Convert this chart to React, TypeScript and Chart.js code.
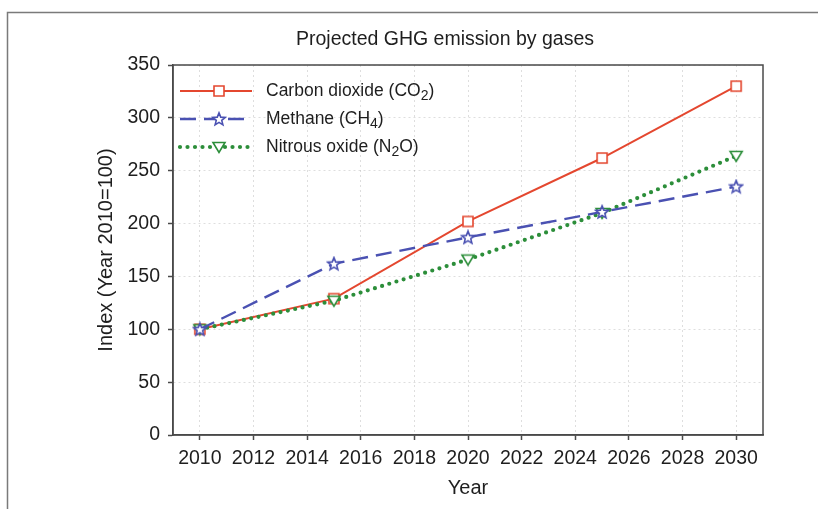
import { useEffect, useRef } from "react";
import { Chart, registerables } from "chart.js";

Chart.register(...registerables);

const FONT = "'Liberation Sans', Arial, Helvetica, sans-serif";

const chartTitle = "Projected GHG emission by gases";
const xAxisTitle = "Year";
const yAxisTitle = "Index (Year 2010=100)";

const years = [2010, 2015, 2020, 2025, 2030];
const co2 = [100, 129, 202, 262, 330];
const ch4 = [100, 162, 187, 211, 235];
const n2o = [100, 127, 166, 210, 264];

const xTicks = [2010, 2012, 2014, 2016, 2018, 2020, 2022, 2024, 2026, 2028, 2030];
const yTicks = [0, 50, 100, 150, 200, 250, 300, 350];

// legend labels: [main text, subscript, tail]
const legendCO2 = ["Carbon dioxide (CO", "2", ")"];
const legendCH4 = ["Methane (CH", "4", ")"];
const legendN2O = ["Nitrous oxide (N", "2", "O)"];

const RED = "#e4472f";
const BLUE = "#4a51b2";
const GREEN = "#2c8e3a";

function makeMarker(kind: string, color: string): HTMLCanvasElement {
  const c = document.createElement("canvas");
  const s = 16;
  c.width = s;
  c.height = s;
  const ctx = c.getContext("2d")!;
  const cx = s / 2;
  const cy = s / 2;
  ctx.lineWidth = 1.6;
  ctx.strokeStyle = color;
  ctx.fillStyle = "#ffffff";
  ctx.beginPath();
  if (kind === "square") {
    ctx.rect(cx - 5, cy - 5, 10, 10);
  } else if (kind === "star") {
    const R = 6.6;
    const r = 2.9;
    for (let i = 0; i < 10; i++) {
      const rad = i % 2 === 0 ? R : r;
      const a = -Math.PI / 2 + (i * Math.PI) / 5;
      const px = cx + rad * Math.cos(a);
      const py = cy + 0.5 + rad * Math.sin(a);
      if (i === 0) ctx.moveTo(px, py);
      else ctx.lineTo(px, py);
    }
    ctx.closePath();
  } else {
    ctx.moveTo(cx - 6, cy - 4.5);
    ctx.lineTo(cx + 6, cy - 4.5);
    ctx.lineTo(cx, cy + 5.5);
    ctx.closePath();
  }
  ctx.fill();
  ctx.stroke();
  return c;
}

export default function App() {
  const ref = useRef<HTMLCanvasElement | null>(null);

  useEffect(() => {
    const canvas = ref.current;
    if (!canvas) return;

    const mSquare = makeMarker("square", RED);
    const mStar = makeMarker("star", BLUE);
    const mTri = makeMarker("tri", GREEN);

    const toPts = (vals: number[]) => years.map((x, i) => ({ x, y: vals[i] }));

    const legendItems = [
      { parts: legendCO2, color: RED, dash: [] as number[], width: 2, cap: "butt", marker: mSquare },
      { parts: legendCH4, color: BLUE, dash: [16, 8], width: 2.4, cap: "butt", marker: mStar },
      { parts: legendN2O, color: GREEN, dash: [0, 7.5], width: 4.2, cap: "round", marker: mTri },
    ];

    const framePlugin = {
      id: "frame",
      beforeDraw(chart: any) {
        const ctx = chart.ctx;
        ctx.save();
        ctx.fillStyle = "#ffffff";
        ctx.fillRect(0, 0, chart.width, chart.height);
        ctx.strokeStyle = "#7a7a7a";
        ctx.lineWidth = 1.5;
        ctx.beginPath();
        ctx.moveTo(7.5, chart.height);
        ctx.lineTo(7.5, 12.5);
        ctx.lineTo(chart.width, 12.5);
        ctx.stroke();
        ctx.fillStyle = "#1e1e1e";
        ctx.font = `19.5px ${FONT}`;
        ctx.textAlign = "center";
        ctx.textBaseline = "middle";
        ctx.fillText(chartTitle, 445, 40);
        ctx.restore();
      },
      afterDraw(chart: any) {
        const ctx = chart.ctx;
        const a = chart.chartArea;
        ctx.save();
        ctx.strokeStyle = "#4a4a4a";
        ctx.lineWidth = 1.5;
        ctx.strokeRect(a.left, a.top, a.right - a.left, a.bottom - a.top);
        // legend
        legendItems.forEach((it, i) => {
          const y = 91 + i * 28;
          ctx.save();
          ctx.strokeStyle = it.color;
          ctx.lineWidth = it.width;
          ctx.lineCap = it.cap;
          ctx.setLineDash(it.dash);
          ctx.beginPath();
          ctx.moveTo(180, y);
          ctx.lineTo(252, y);
          ctx.stroke();
          ctx.restore();
          ctx.drawImage(it.marker, 219 - it.marker.width / 2, y - it.marker.height / 2);
          ctx.fillStyle = "#1e1e1e";
          ctx.textAlign = "left";
          ctx.textBaseline = "middle";
          let x = 266;
          ctx.font = `17.5px ${FONT}`;
          ctx.fillText(it.parts[0], x, y);
          x += ctx.measureText(it.parts[0]).width;
          ctx.font = `14px ${FONT}`;
          ctx.fillText(it.parts[1], x, y + 5);
          x += ctx.measureText(it.parts[1]).width;
          ctx.font = `17.5px ${FONT}`;
          ctx.fillText(it.parts[2], x, y);
        });
        ctx.restore();
      },
    };

    const gridCommon = {
      color: "rgba(0,0,0,0.13)",
      lineWidth: 1,
      tickLength: 5,
      tickColor: "#4a4a4a",
      tickWidth: 1.5,
      tickBorderDash: [],
    };
    const borderCommon = { color: "#4a4a4a", width: 1.5, dash: [2, 3] };

    const chart = new Chart(canvas, {
      type: "line",
      data: {
        datasets: [
          {
            label: legendCO2.join(""),
            data: toPts(co2),
            borderColor: RED,
            backgroundColor: RED,
            borderWidth: 2,
            pointStyle: mSquare as any,
            pointRadius: 5,
            order: 3,
          },
          {
            label: legendCH4.join(""),
            data: toPts(ch4),
            borderColor: BLUE,
            backgroundColor: BLUE,
            borderWidth: 2.4,
            borderDash: [16, 8],
            pointStyle: mStar as any,
            pointRadius: 5,
            order: 1,
          },
          {
            label: legendN2O.join(""),
            data: toPts(n2o),
            borderColor: GREEN,
            backgroundColor: GREEN,
            borderWidth: 4.2,
            borderDash: [0, 7.5],
            borderCapStyle: "round",
            pointStyle: mTri as any,
            pointRadius: 5,
            order: 2,
          },
        ],
      },
      options: {
        animation: false,
        responsive: false,
        events: [],
        layout: { padding: { left: 89, top: 65, right: 55, bottom: 0 } },
        plugins: {
          legend: { display: false },
          title: { display: false },
          tooltip: { enabled: false },
        },
        scales: {
          x: {
            type: "linear",
            min: 2009,
            max: 2031,
            afterBuildTicks: (s: any) => {
              s.ticks = xTicks.map((v) => ({ value: v }));
            },
            afterFit: (s: any) => {
              s.height = 74;
            },
            ticks: {
              callback: (v: any) => String(v),
              font: { size: 19.5, family: FONT },
              color: "#1e1e1e",
              padding: 7,
              maxRotation: 0,
              autoSkip: false,
            },
            grid: gridCommon,
            border: borderCommon,
            title: {
              display: true,
              text: xAxisTitle,
              font: { size: 20, family: FONT },
              color: "#1e1e1e",
              padding: { top: 0, bottom: 9 },
            },
          },
          y: {
            type: "linear",
            min: 0,
            max: 350,
            afterBuildTicks: (s: any) => {
              s.ticks = yTicks.map((v) => ({ value: v }));
            },
            afterFit: (s: any) => {
              s.width = 84;
            },
            ticks: {
              callback: (v: any) => String(v),
              font: { size: 19.5, family: FONT },
              color: "#1e1e1e",
              padding: 8,
            },
            grid: gridCommon,
            border: borderCommon,
            title: {
              display: true,
              text: yAxisTitle,
              font: { size: 20, family: FONT },
              color: "#1e1e1e",
              padding: { top: 5, bottom: 4 },
            },
          },
        },
      },
      plugins: [framePlugin],
    } as any);

    return () => chart.destroy();
  }, []);

  return (
    <div style={{ position: "absolute", left: 0, top: 0, width: 818, height: 509 }}>
      <canvas ref={ref} width={818} height={509} style={{ display: "block" }} />
    </div>
  );
}
